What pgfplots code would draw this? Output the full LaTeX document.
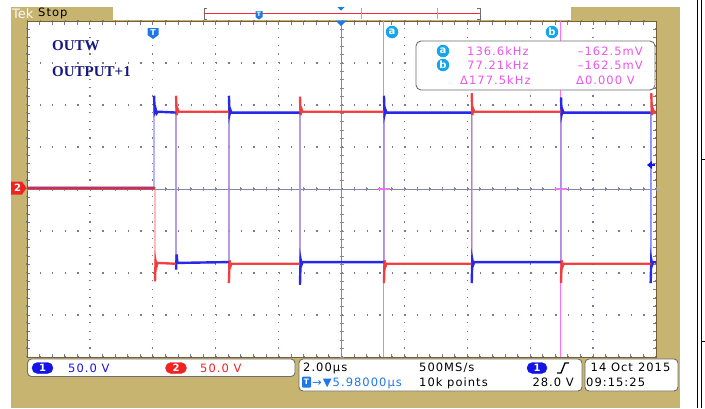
\documentclass[border=0pt]{standalone}
\usepackage{pgfplots}
\pgfplotsset{compat=1.18}
\usepackage{fontspec}
\setmainfont{DejaVu Sans}
\newfontfamily\tek[LetterSpace=9]{DejaVu Sans}
\newfontfamily\tims{Liberation Serif}
\definecolor{gold}{RGB}{198,180,112}
\definecolor{frame}{RGB}{120,95,50}
\definecolor{gridc}{RGB}{120,120,155}
\definecolor{centc}{RGB}{130,135,165}
\definecolor{bdark}{RGB}{40,40,235}
\definecolor{blight}{RGB}{140,140,255}
\definecolor{rdark}{RGB}{240,45,45}
\definecolor{rlight}{RGB}{255,150,150}
\definecolor{curs}{RGB}{255,110,255}
\definecolor{magt}{RGB}{235,85,235}
\definecolor{cyanm}{RGB}{20,165,235}
\definecolor{tblue}{RGB}{30,120,230}
\definecolor{chblue}{RGB}{20,20,230}
\definecolor{chred}{RGB}{240,35,35}
\definecolor{navy}{RGB}{25,25,125}
\definecolor{boxc}{RGB}{110,110,110}
\newcommand{\tf}{\tek\fontsize{11.5}{12}\selectfont}

\pgfplotstableread{
t v
-10 1.5
-5.96 1.5
-5.96 111
-5.94 92
-5.91 95
-5.88 90
-5.84 92
-5.26 91
-5.26 -96
-5.24 -78
-5.22 -88
-3.58 -87
-3.58 111
-3.56 89
-3.53 94
-3.50 91
-1.32 91
-1.32 -114
-1.30 -84
-1.27 -90
-1.24 -87
1.35 -87
1.35 111
1.37 89
1.40 94
1.43 91
4.14 91
4.14 -112
4.16 -84
4.19 -90
4.22 -87
6.98 -87
6.98 109
7.00 89
7.03 94
7.06 91
9.83 91
9.83 -112
9.85 -84
9.88 -90
9.91 -87
10 -87
}\blueall

\pgfplotstableread{
t v
-10 1.5
-5.96 1.5
nan nan
-5.96 111
-5.94 92
-5.91 95
-5.88 90
-5.84 92
-5.26 91
nan nan
-5.26 -96
-5.24 -78
-5.22 -88
-3.58 -87
nan nan
-3.58 111
-3.56 89
-3.53 94
-3.50 91
-1.32 91
nan nan
-1.32 -114
-1.30 -84
-1.27 -90
-1.24 -87
1.35 -87
nan nan
1.35 111
1.37 89
1.40 94
1.43 91
4.14 91
nan nan
4.14 -112
4.16 -84
4.19 -90
4.22 -87
6.98 -87
nan nan
6.98 109
7.00 89
7.03 94
7.06 91
9.83 91
nan nan
9.83 -112
9.85 -84
9.88 -90
9.91 -87
10 -87
}\bluedark

\pgfplotstableread{
t v
-10 1.5
-5.93 1.5
-5.93 -110
-5.91 -86
-5.88 -92
-5.85 -88
-5.26 -89
-5.26 111
-5.24 88
-5.21 95
-5.18 92
-3.58 92
-3.58 -112
-3.56 -85
-3.53 -92
-3.50 -89
-1.32 -89
-1.32 110
-1.30 88
-1.27 95
-1.24 92
1.35 92
1.35 -112
1.37 -85
1.40 -92
1.43 -89
4.14 -89
4.14 114
4.16 88
4.19 95
4.22 92
6.98 92
6.98 -112
7.00 -85
7.03 -92
7.06 -89
9.85 -89
9.85 114
9.87 88
9.90 95
9.93 92
10 92
}\redall

\pgfplotstableread{
t v
-10 0.8
-5.93 0.8
nan nan
-5.93 -110
-5.91 -86
-5.88 -92
-5.85 -88
-5.26 -89
nan nan
-5.26 111
-5.24 88
-5.21 95
-5.18 92
-3.58 92
nan nan
-3.58 -112
-3.56 -85
-3.53 -92
-3.50 -89
-1.32 -89
nan nan
-1.32 110
-1.30 88
-1.27 95
-1.24 92
1.35 92
nan nan
1.35 -112
1.37 -85
1.40 -92
1.43 -89
4.14 -89
nan nan
4.14 114
4.16 88
4.19 95
4.22 92
6.98 92
nan nan
6.98 -112
7.00 -85
7.03 -92
7.06 -89
9.85 -89
nan nan
9.85 114
9.87 88
9.90 95
9.93 92
10 92
}\reddark

\begin{document}
\begin{tikzpicture}
\useasboundingbox (0,0) rectangle (705pt,-408pt);
\fill[white] (0,0) rectangle (705pt,-408pt);
\begin{scope}[x=1pt,y=-1pt]
\fill[gold] (11,7) rectangle (680,408);
\fill[white] (113,7) rectangle (571,20);
\draw[black, line width=1pt] (697,0) -- (697,408);
\draw[black, line width=1pt] (701,0) -- (701,408);
\draw[black, line width=0.8pt] (701,159) -- (705,159);
\draw[black, line width=0.8pt] (701,341) -- (705,341);
\end{scope}

% main screen with dotted grid and frame ticks
\begin{axis}[
  at={(27pt,-21pt)}, anchor=north west,
  width=629pt, height=336pt, scale only axis,
  xmin=-10, xmax=10, ymin=-200, ymax=200,
  xtick={-10,-8,...,10}, ytick={-200,-150,...,200},
  minor x tick num=4, minor y tick num=4,
  xticklabels={}, yticklabels={},
  tick align=inside, major tick length=3.5pt, minor tick length=3.5pt,
  xtick pos=both, ytick pos=both,
  xmajorgrids=true, ymajorgrids=true,
  major x grid style={draw=gridc, line width=1.3pt, dash pattern=on 1.3pt off 7.1pt},
  major y grid style={draw=gridc, line width=1.3pt, dash pattern=on 1.3pt off 11.28pt},
  axis background/.style={fill=white},
  axis line style={draw=frame, line width=0.9pt},
  tick style={draw=gridc, line width=0.9pt},
]
\end{axis}

% center cross with ticks, cursors and traces
\begin{axis}[
  at={(27pt,-21pt)}, anchor=north west,
  width=629pt, height=336pt, scale only axis,
  xmin=-10, xmax=10, ymin=-200, ymax=200,
  axis lines=center,
  axis line style={-, draw=centc, line width=0.9pt},
  every inner x axis line/.append style={-},
  every inner y axis line/.append style={-},
  xtick={-10,-8,...,10}, ytick={-200,-150,...,200},
  minor x tick num=4, minor y tick num=4,
  xticklabels={}, yticklabels={},
  tick align=center, major tick length=4pt, minor tick length=4pt,
  tick style={centc, line width=0.8pt},
  unbounded coords=jump,
  clip=true,
]
\draw[curs, line width=1.3pt] (axis cs:1.34,-200) -- (axis cs:1.34,200);
\draw[curs, line width=1.3pt] (axis cs:6.97,-200) -- (axis cs:6.97,200);
\draw[curs, line width=1.3pt] (axis cs:1.15,-0.16) -- (axis cs:1.53,-0.16);
\draw[curs, line width=1.3pt] (axis cs:6.78,-0.16) -- (axis cs:7.16,-0.16);
\addplot[rlight, line width=1.2pt, no markers] table[x=t,y=v] {\redall};
\addplot[blight, line width=1.2pt, no markers] table[x=t,y=v] {\blueall};
\addplot[bdark, line width=2.4pt, no markers] table[x=t,y=v] {\bluedark};
\addplot[rdark, line width=2.4pt, no markers, opacity=0.85] table[x=t,y=v] {\reddark};
\end{axis}

\begin{scope}[x=1pt,y=-1pt]
% top status
\node[anchor=west, inner sep=0, text=white!94!gold, font=\fontsize{13}{13}\selectfont] at (12,13.5) {Tek};
\node[anchor=west, inner sep=0, font=\tf] at (38,13.5) {Stop};
\draw[boxc, line width=0.9pt] (207,8) -- (204,8) -- (204,19) -- (207,19);
\draw[boxc, line width=0.9pt] (477,8) -- (480,8) -- (480,19) -- (477,19);
\draw[rdark, line width=0.9pt] (204,13.3) -- (480,13.3);
\draw[curs, line width=1pt] (361,8) -- (361,19);
\draw[curs, line width=1pt] (437,8) -- (437,19);
\fill[tblue] (255.5,11) -- (262.5,11) -- (262.5,17) -- (259,19.5) -- (255.5,17) -- cycle;
\node[text=white, inner sep=0, font=\bfseries\fontsize{6}{6}\selectfont] at (259,14.7) {T};
\fill[tblue] (337.5,7) -- (344.5,7) -- (341,10.5) -- cycle;
\fill[tblue] (335.5,20.5) -- (346.5,20.5) -- (341,26) -- cycle;
% trigger marker
\fill[tblue] (147.5,28) -- (158.5,28) -- (158.5,35) -- (153,39) -- (147.5,35) -- cycle;
\node[text=white, inner sep=0, font=\bfseries\fontsize{8}{8}\selectfont] at (153,32.5) {T};
% labels
\node[anchor=west, inner sep=0, text=navy, font=\tims\bfseries\fontsize{15}{15}\selectfont] at (52,45.7) {OUTW};
\node[anchor=west, inner sep=0, text=navy, font=\tims\bfseries\fontsize{15}{15}\selectfont] at (52,71.5) {OUTPUT+1};
% cursor labels
\node[circle, fill=cyanm, inner sep=0, minimum size=12.5pt, text=white, font=\bfseries\fontsize{10}{10}\selectfont] at (392,32) {a};
\node[circle, fill=cyanm, inner sep=0, minimum size=12.5pt, text=white, font=\bfseries\fontsize{10}{10}\selectfont] at (552,32) {b};
% readout box
\draw[boxc, line width=0.9pt, fill=white, rounded corners=5pt] (416,41) rectangle (655,90);
\node[circle, fill=cyanm, inner sep=0, minimum size=12.5pt, text=white, font=\bfseries\fontsize{10}{10}\selectfont] at (443,51) {a};
\node[circle, fill=cyanm, inner sep=0, minimum size=12.5pt, text=white, font=\bfseries\fontsize{10}{10}\selectfont] at (443,65) {b};
\begin{scope}[every node/.style={inner sep=0, text height=8.3pt, text depth=0pt, font=\tf, text=magt}]
\node[anchor=west] at (467,51) {136.6kHz};
\node[anchor=east] at (643,51) {–162.5mV};
\node[anchor=west] at (467,65) {77.21kHz};
\node[anchor=east] at (643,65) {–162.5mV};
\node[anchor=west] at (460,80) {Δ177.5kHz};
\node[anchor=west] at (576,80) {Δ0.000 V};
\end{scope}
% channel 2 ground marker
\fill[chred] (11,181.5) -- (22,181.5) -- (26.5,188) -- (22,194.5) -- (11,194.5) -- cycle;
\node[text=white, inner sep=0, font=\bfseries\fontsize{10}{10}\selectfont] at (17.5,188) {2};
% trigger level marker
\fill[chblue] (647,165) -- (652,161) -- (652,169) -- cycle;
\draw[chblue, line width=1.5pt] (651,165) -- (655,165);
% bottom boxes
\draw[boxc, line width=0.9pt, fill=white, rounded corners=4pt] (27.5,359) rectangle (295,376.5);
\filldraw[chblue, rounded corners=5.5pt] (32,362.5) rectangle (53,373.5);
\node[text=white, inner sep=0, font=\bfseries\fontsize{10}{10}\selectfont] at (42.5,368) {1};
\node[anchor=west, inner sep=0, text height=8.3pt, text depth=0pt, font=\tf, text=chblue] at (68,368) {50.0 V};
\filldraw[chred, rounded corners=5.5pt] (165.5,362.5) rectangle (186.5,373.5);
\node[text=white, inner sep=0, font=\bfseries\fontsize{10}{10}\selectfont] at (176,368) {2};
\node[anchor=west, inner sep=0, text height=8.3pt, text depth=0pt, font=\tf, text=chred] at (200,368) {50.0 V};
\draw[boxc, line width=0.9pt, fill=white, rounded corners=4pt] (299,359) rectangle (582,391);
\begin{scope}[every node/.style={inner sep=0, text height=8.3pt, text depth=0pt, font=\tf}]
\node[anchor=west] at (303,367.5) {2.00µs};
\node[anchor=west] at (419,367.5) {500MS/s};
\node[anchor=west] at (419,382) {10k points};
\node[anchor=east] at (574,382) {28.0 V};
\node[anchor=west, text=tblue] at (312,382) {→▼5.98000µs};
\end{scope}
\fill[tblue, rounded corners=1pt] (302,376.5) rectangle (311,387.5);
\node[text=white, inner sep=0, font=\bfseries\fontsize{7.5}{7.5}\selectfont] at (306.5,382) {T};
\filldraw[chblue, rounded corners=5.5pt] (527,362.5) rectangle (547,373.5);
\node[text=white, inner sep=0, font=\bfseries\fontsize{10}{10}\selectfont] at (537,368) {1};
\draw[black, line width=1.3pt] (557,373) -- (561,373) -- (565,363) -- (569,363);
\draw[boxc, line width=0.9pt, fill=white, rounded corners=4pt] (585,359) rectangle (678,391);
\begin{scope}[every node/.style={inner sep=0, text height=8.3pt, text depth=0pt, font=\tf}]
\node[anchor=west] at (590.5,367.5) {14 Oct\hspace{5pt}2015};
\node[anchor=west] at (586,382) {09:15:25};
\end{scope}
\end{scope}
\end{tikzpicture}
\end{document}
